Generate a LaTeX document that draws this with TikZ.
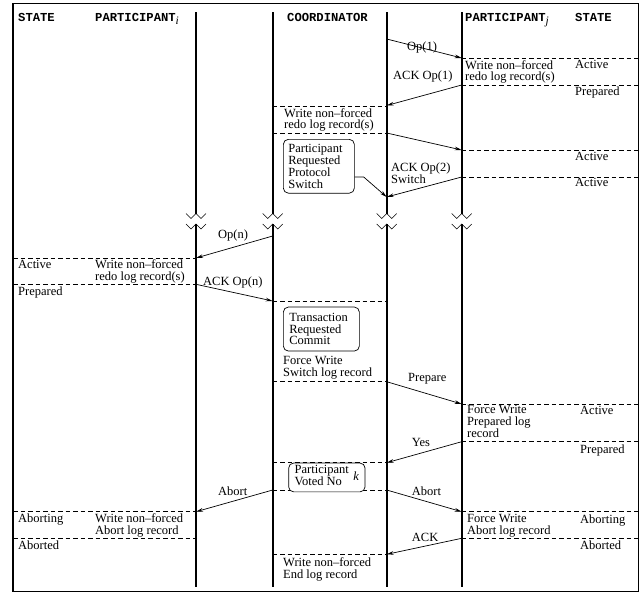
\documentclass[tikz,border=0pt]{standalone}
\usepackage{fontspec}
\setmainfont{Liberation Serif}
\setmonofont{Liberation Mono}
\usetikzlibrary{arrows.meta,positioning}
\newcommand{\subidx}[1]{\raisebox{-3.5pt}{\normalfont\itshape\fontsize{11.5}{12}\selectfont #1}}

\begin{document}
\begin{tikzpicture}[x=1pt, y=-1pt,
    life/.style={line width=1.6pt},
    brk/.style={line width=0.6pt},
    logline/.style={dashed, dash pattern=on 4.5pt off 3pt, line width=0.6pt},
    msg/.style={-{Stealth[length=7pt,width=3.6pt]}, line width=0.7pt},
    lbl/.style={inner sep=0pt, anchor=north west, align=left, font=\fontsize{12.5}{11.8}\selectfont},
    note/.style={lbl, draw, rounded corners=5pt, fill=white, line width=0.7pt, inner xsep=5pt, inner ysep=5pt},
    hdr/.style={inner sep=0pt, anchor=base west, font=\fontsize{12.2}{14}\selectfont\ttfamily\bfseries}
]
\useasboundingbox (0,0) rectangle (640,595);
\draw[line width=1.3pt] (13,3.5) rectangle (638.5,591.7);

% headers
\node[hdr] (sti) at (18,21) {STATE};
\node[hdr] (pti) at (95,21) {PARTICIPANT\subidx{i}};
\node[hdr] (crd) at (287,21) {COORDINATOR};
\node[hdr] (ptj) at (465,21) {PARTICIPANT\subidx{j}};
\node[hdr] (stj) at (575,21) {STATE};

% lifelines with break marks
\foreach \lx in {196,272.7,386.7,461.7} {
    \draw[life] (\lx,12.3) -- (\lx,213.5);
    \draw[life] (\lx,224) -- (\lx,586.7);
    \draw[brk] (\lx-10,213.5) -- ++(5,5) -- ++(5,-5) -- ++(5,5) -- ++(5,-5);
    \draw[brk] (\lx-10,224) -- ++(5,5) -- ++(5,-5) -- ++(5,5) -- ++(5,-5);
}

% log record lines
\foreach \ly in {58,85,150,177,404,441.7,511.7,538.3}
    \draw[logline] (461.7,\ly) -- (638.5,\ly);
\foreach \ly in {106,133,301,381.7,462.7,490,554.3}
    \draw[logline] (272.7,\ly) -- (386.7,\ly);
\foreach \ly in {258.3,284.3,511.7,538.3}
    \draw[logline] (13,\ly) -- (196,\ly);

% message end points
\coordinate (op1s) at (386.7,39);    \coordinate (op1e) at (461.7,58);
\coordinate (ak1s) at (461.7,85);    \coordinate (ak1e) at (386.7,105.5);
\coordinate (op2s) at (386.7,133);   \coordinate (op2e) at (461.7,150);
\coordinate (ak2s) at (461.7,177);   \coordinate (ak2e) at (386.7,197);
\coordinate (opns) at (272.7,236);   \coordinate (opne) at (196,258);
\coordinate (akns) at (196,284.3);   \coordinate (akne) at (272.7,301);
\coordinate (prps) at (386.7,381.7); \coordinate (prpe) at (461.7,404);
\coordinate (yess) at (461.7,441.7); \coordinate (yese) at (386.7,462.7);
\coordinate (abis) at (272.7,490);   \coordinate (abie) at (196,511.7);
\coordinate (abjs) at (386.7,490);   \coordinate (abje) at (461.7,511.7);
\coordinate (acks) at (461.7,538.3); \coordinate (acke) at (386.7,554.3);

% labels
\node[lbl] (op1) at (407,42) {Op(1)};
\node[lbl] (wj1) at (465,60) {Write non--forced\\redo log record(s)};
\node[lbl] (sj1) at (575,60) {Active};
\node[lbl] (ak1) at (393,70.5) {ACK Op(1)};
\node[lbl] (sj2) at (575,86.5) {Prepared};
\node[lbl] (wc1) at (284,108) {Write non--forced\\redo log record(s)};
\node[note, text width=61pt] (psw) at (283,139) {Participant\\Requested\\Protocol\\Switch};
\node[lbl] (ak2) at (391,163) {ACK Op(2)\\Switch};
\node[lbl] (sj3) at (575,152.5) {Active};
\node[lbl] (sj4) at (575,178.5) {Active};

\node[lbl] (opn) at (218,229.5) {Op(n)};
\node[lbl] (si1) at (18,260.5) {Active};
\node[lbl] (wi1) at (95,259.5) {Write non--forced\\redo log record(s)};
\node[lbl] (akn) at (203,276.5) {ACK Op(n)};
\node[lbl] (si2) at (18,287) {Prepared};
\node[note, text width=64pt, inner xsep=6pt, inner ysep=6pt] (trc) at (283,306.7) {Transaction\\Requested\\Commit};
\node[lbl] (fwc) at (283,356.5) {Force Write\\Switch log record};
\node[lbl] (prp) at (408,373) {Prepare};
\node[lbl] (fwj) at (467,405.5) {Force Write\\Prepared log\\record};
\node[lbl] (sj5) at (580,406) {Active};
\node[lbl] (sj6) at (580,444.5) {Prepared};
\node[lbl] (yes) at (411.7,438) {Yes};
\node[note, inner xsep=6pt, inner ysep=2.4pt] (pvn) at (288.3,462.7)
    {\begin{tabular}{@{}l@{}}Participant\\Voted No\end{tabular}\hspace{4.5pt}\textit{k}};
\node[lbl] (abi) at (218,487) {Abort};
\node[lbl] (abj) at (411.7,487) {Abort};
\node[lbl] (si3) at (18,514) {Aborting};
\node[lbl] (wi2) at (95,513.5) {Write non--forced\\Abort log record};
\node[lbl] (si4) at (18,541) {Aborted};
\node[lbl] (fwa) at (467,514) {Force Write\\Abort log record};
\node[lbl] (sj7) at (580,514.5) {Aborting};
\node[lbl] (sj8) at (580,541) {Aborted};
\node[lbl] (ack) at (411.7,533) {ACK};
\node[lbl] (wc2) at (283,557.5) {Write non--forced\\End log record};

% messages
\draw[msg] (op1s) -- (op1e);
\draw[msg] (ak1s) -- (ak1e);
\draw[msg] (op2s) -- (op2e);
\draw[msg] (ak2s) -- (ak2e);
\draw[msg] (psw.east |- ak2s) -- ++(9,0) -- (ak2e);
\draw[msg] (opns) -- (opne);
\draw[msg] (akns) -- (akne);
\draw[msg] (prps) -- (prpe);
\draw[msg] (yess) -- (yese);
\draw[msg] (abis) -- (abie);
\draw[msg] (abjs) -- (abje);
\draw[msg] (acks) -- (acke);
\end{tikzpicture}
\end{document}
